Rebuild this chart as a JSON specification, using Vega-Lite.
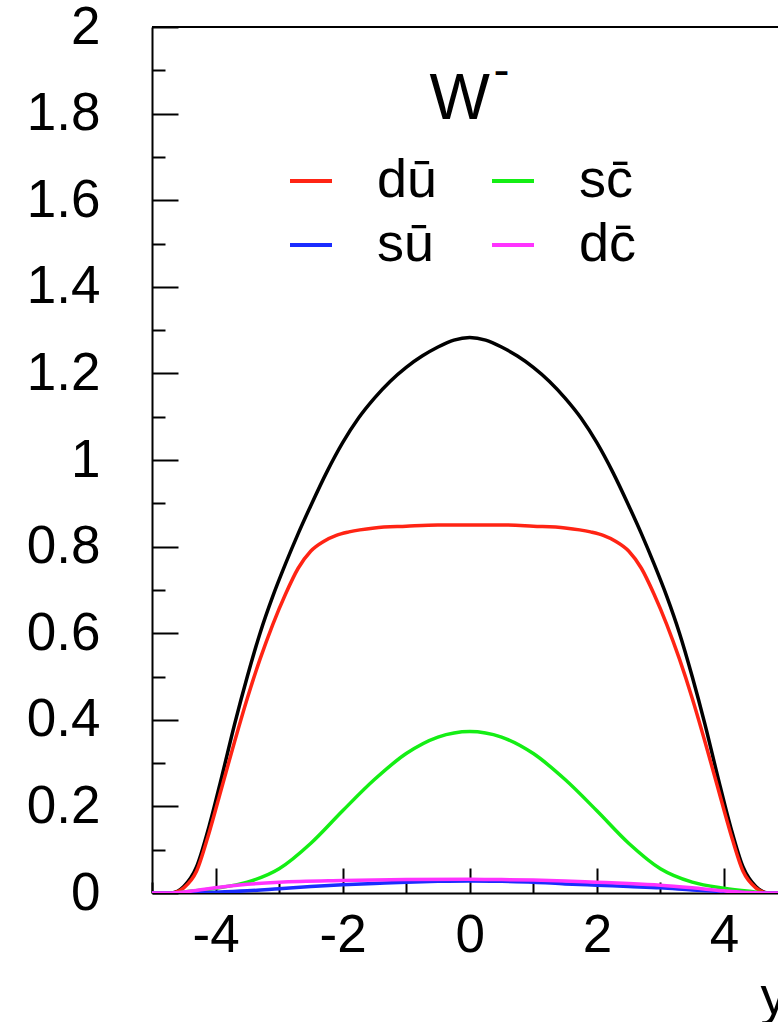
{
  "$schema": "https://vega.github.io/schema/vega-lite/v6.json",
  "width": 626,
  "height": 866,
  "autosize": {"type": "none"},
  "padding": {"left": 152, "top": 27, "right": 0, "bottom": 129},
  "background": "white",
  "config": {
    "view": {"stroke": null},
    "font": "Liberation Sans"
  },
  "datasets": {
    "total": [
      {"x": -5, "v": 0}, {"x": -4.7, "v": 0}, {"x": -4.5, "v": 0.015}, {"x": -4.3, "v": 0.06},
      {"x": -4.1, "v": 0.155}, {"x": -3.9, "v": 0.27}, {"x": -3.7, "v": 0.39}, {"x": -3.5, "v": 0.5},
      {"x": -3.3, "v": 0.6}, {"x": -3.1, "v": 0.685}, {"x": -2.9, "v": 0.76}, {"x": -2.7, "v": 0.83},
      {"x": -2.5, "v": 0.895}, {"x": -2.25, "v": 0.972}, {"x": -2, "v": 1.04}, {"x": -1.75, "v": 1.097},
      {"x": -1.5, "v": 1.143}, {"x": -1.25, "v": 1.182}, {"x": -1, "v": 1.214}, {"x": -0.75, "v": 1.24},
      {"x": -0.5, "v": 1.261}, {"x": -0.25, "v": 1.277}, {"x": 0, "v": 1.283},
      {"x": 0.25, "v": 1.277}, {"x": 0.5, "v": 1.261}, {"x": 0.75, "v": 1.24}, {"x": 1, "v": 1.214},
      {"x": 1.25, "v": 1.182}, {"x": 1.5, "v": 1.143}, {"x": 1.75, "v": 1.097}, {"x": 2, "v": 1.04},
      {"x": 2.25, "v": 0.972}, {"x": 2.5, "v": 0.895}, {"x": 2.7, "v": 0.83}, {"x": 2.9, "v": 0.76},
      {"x": 3.1, "v": 0.685}, {"x": 3.3, "v": 0.6}, {"x": 3.5, "v": 0.5}, {"x": 3.7, "v": 0.39},
      {"x": 3.9, "v": 0.27}, {"x": 4.1, "v": 0.155}, {"x": 4.3, "v": 0.06}, {"x": 4.5, "v": 0.015},
      {"x": 4.7, "v": 0}, {"x": 5, "v": 0}
    ],
    "flavours": [
      {"s": "dū", "x": -5, "v": 0}, {"s": "dū", "x": -4.7, "v": 0}, {"s": "dū", "x": -4.5, "v": 0.012},
      {"s": "dū", "x": -4.3, "v": 0.05}, {"s": "dū", "x": -4.1, "v": 0.14}, {"s": "dū", "x": -3.9, "v": 0.245},
      {"s": "dū", "x": -3.7, "v": 0.35}, {"s": "dū", "x": -3.5, "v": 0.45}, {"s": "dū", "x": -3.3, "v": 0.54},
      {"s": "dū", "x": -3.1, "v": 0.62}, {"s": "dū", "x": -2.9, "v": 0.69}, {"s": "dū", "x": -2.7, "v": 0.75},
      {"s": "dū", "x": -2.5, "v": 0.79}, {"s": "dū", "x": -2.3, "v": 0.812}, {"s": "dū", "x": -2.1, "v": 0.826},
      {"s": "dū", "x": -1.9, "v": 0.834}, {"s": "dū", "x": -1.5, "v": 0.843}, {"s": "dū", "x": -1, "v": 0.847},
      {"s": "dū", "x": -0.5, "v": 0.85}, {"s": "dū", "x": 0, "v": 0.85}, {"s": "dū", "x": 0.5, "v": 0.85},
      {"s": "dū", "x": 1, "v": 0.847}, {"s": "dū", "x": 1.5, "v": 0.843}, {"s": "dū", "x": 1.9, "v": 0.834},
      {"s": "dū", "x": 2.1, "v": 0.826}, {"s": "dū", "x": 2.3, "v": 0.812}, {"s": "dū", "x": 2.5, "v": 0.79},
      {"s": "dū", "x": 2.7, "v": 0.75}, {"s": "dū", "x": 2.9, "v": 0.69}, {"s": "dū", "x": 3.1, "v": 0.62},
      {"s": "dū", "x": 3.3, "v": 0.54}, {"s": "dū", "x": 3.5, "v": 0.45}, {"s": "dū", "x": 3.7, "v": 0.35},
      {"s": "dū", "x": 3.9, "v": 0.245}, {"s": "dū", "x": 4.1, "v": 0.14}, {"s": "dū", "x": 4.3, "v": 0.05},
      {"s": "dū", "x": 4.5, "v": 0.012}, {"s": "dū", "x": 4.7, "v": 0}, {"s": "dū", "x": 5, "v": 0},

      {"s": "sc̄", "x": -5, "v": 0}, {"s": "sc̄", "x": -4.7, "v": 0}, {"s": "sc̄", "x": -4.4, "v": 0.004},
      {"s": "sc̄", "x": -4, "v": 0.011}, {"s": "sc̄", "x": -3.5, "v": 0.025}, {"s": "sc̄", "x": -3, "v": 0.056},
      {"s": "sc̄", "x": -2.5, "v": 0.115}, {"s": "sc̄", "x": -2, "v": 0.19}, {"s": "sc̄", "x": -1.5, "v": 0.262},
      {"s": "sc̄", "x": -1, "v": 0.322}, {"s": "sc̄", "x": -0.5, "v": 0.36}, {"s": "sc̄", "x": 0, "v": 0.373},
      {"s": "sc̄", "x": 0.5, "v": 0.36}, {"s": "sc̄", "x": 1, "v": 0.322}, {"s": "sc̄", "x": 1.5, "v": 0.262},
      {"s": "sc̄", "x": 2, "v": 0.19}, {"s": "sc̄", "x": 2.5, "v": 0.115}, {"s": "sc̄", "x": 3, "v": 0.056},
      {"s": "sc̄", "x": 3.5, "v": 0.025}, {"s": "sc̄", "x": 4, "v": 0.011}, {"s": "sc̄", "x": 4.4, "v": 0.004},
      {"s": "sc̄", "x": 4.7, "v": 0}, {"s": "sc̄", "x": 5, "v": 0},

      {"s": "sū", "x": -5, "v": 0}, {"s": "sū", "x": -4.7, "v": 0}, {"s": "sū", "x": -4, "v": 0.002},
      {"s": "sū", "x": -3.5, "v": 0.005}, {"s": "sū", "x": -3, "v": 0.01}, {"s": "sū", "x": -2.5, "v": 0.015},
      {"s": "sū", "x": -2, "v": 0.019}, {"s": "sū", "x": -1.5, "v": 0.022}, {"s": "sū", "x": -1, "v": 0.025},
      {"s": "sū", "x": -0.5, "v": 0.027}, {"s": "sū", "x": 0, "v": 0.028}, {"s": "sū", "x": 0.5, "v": 0.027},
      {"s": "sū", "x": 1, "v": 0.025}, {"s": "sū", "x": 1.5, "v": 0.021}, {"s": "sū", "x": 2, "v": 0.018},
      {"s": "sū", "x": 2.5, "v": 0.015}, {"s": "sū", "x": 3, "v": 0.012}, {"s": "sū", "x": 3.5, "v": 0.007},
      {"s": "sū", "x": 4, "v": 0.003}, {"s": "sū", "x": 4.4, "v": 0.0005}, {"s": "sū", "x": 4.7, "v": 0},
      {"s": "sū", "x": 5, "v": 0},

      {"s": "dc̄", "x": -5, "v": 0}, {"s": "dc̄", "x": -4.7, "v": 0}, {"s": "dc̄", "x": -4.3, "v": 0.006},
      {"s": "dc̄", "x": -4, "v": 0.012}, {"s": "dc̄", "x": -3.5, "v": 0.02}, {"s": "dc̄", "x": -3, "v": 0.025},
      {"s": "dc̄", "x": -2, "v": 0.029}, {"s": "dc̄", "x": -1, "v": 0.031}, {"s": "dc̄", "x": 0, "v": 0.032},
      {"s": "dc̄", "x": 0.5, "v": 0.031}, {"s": "dc̄", "x": 1, "v": 0.03}, {"s": "dc̄", "x": 1.5, "v": 0.028},
      {"s": "dc̄", "x": 2, "v": 0.025}, {"s": "dc̄", "x": 2.5, "v": 0.022}, {"s": "dc̄", "x": 3, "v": 0.018},
      {"s": "dc̄", "x": 3.5, "v": 0.012}, {"s": "dc̄", "x": 4, "v": 0.005}, {"s": "dc̄", "x": 4.4, "v": 0.001},
      {"s": "dc̄", "x": 4.7, "v": 0}, {"s": "dc̄", "x": 5, "v": 0}
    ]
  },
  "layer": [
    {
      "data": {"name": "total"},
      "mark": {"type": "line", "color": "black", "strokeWidth": 3.5, "interpolate": "monotone", "clip": true},
      "encoding": {
        "x": {
          "field": "x", "type": "quantitative",
          "scale": {"domain": [-5, 4.85], "nice": false, "zero": false},
          "axis": {
            "values": [-5, -4.5, -4, -3.5, -3, -2.5, -2, -1.5, -1, -0.5, 0, 0.5, 1, 1.5, 2, 2.5, 3, 3.5, 4, 4.5],
            "labelExpr": "abs(datum.value/2 - round(datum.value/2)) < 0.001 ? '' + datum.value : ''",
            "tickSize": {"condition": {"test": "abs(datum.value/2 - round(datum.value/2)) < 0.001", "value": -25}, "value": -11},
            "tickWidth": 2, "tickColor": "black",
            "domainWidth": 2, "domainColor": "black",
            "labelFontSize": 53, "labelFont": "Liberation Sans", "labelColor": "black",
            "labelPadding": 41, "labelOverlap": false, "labelFlush": false,
            "grid": false,
            "title": "y", "titleFontSize": 53, "titleFont": "Liberation Sans", "titleFontWeight": "normal",
            "titleColor": "black", "titleAnchor": "end", "titleAlign": "left", "titleBaseline": "alphabetic",
            "titleX": 608, "titleY": 120
          }
        },
        "y": {
          "field": "v", "type": "quantitative",
          "scale": {"domain": [0, 2], "nice": false},
          "axis": {
            "values": [0, 0.05, 0.1, 0.15, 0.2, 0.25, 0.3, 0.35, 0.4, 0.45, 0.5, 0.55, 0.6, 0.65, 0.7, 0.75, 0.8, 0.85, 0.9, 0.95, 1, 1.05, 1.1, 1.15, 1.2, 1.25, 1.3, 1.35, 1.4, 1.45, 1.5, 1.55, 1.6, 1.65, 1.7, 1.75, 1.8, 1.85, 1.9, 1.95, 2],
            "labelExpr": "abs(datum.value*5 - round(datum.value*5)) < 0.001 ? '' + datum.value : ''",
            "tickSize": {"condition": {"test": "abs(datum.value*5 - round(datum.value*5)) < 0.001", "value": -26}, "value": -13},
            "tickWidth": 2, "tickColor": "black",
            "domainWidth": 2, "domainColor": "black",
            "labelFontSize": 53, "labelFont": "Liberation Sans", "labelColor": "black",
            "labelPadding": 78, "labelOverlap": false, "labelFlush": false,
            "grid": false, "title": null
          }
        }
      }
    },
    {
      "data": {"name": "flavours"},
      "mark": {"type": "line", "strokeWidth": 3.5, "interpolate": "monotone", "clip": true},
      "encoding": {
        "x": {"field": "x", "type": "quantitative", "scale": {"domain": [-5, 4.85], "nice": false, "zero": false}},
        "y": {"field": "v", "type": "quantitative", "scale": {"domain": [0, 2], "nice": false}},
        "color": {
          "field": "s", "type": "nominal",
          "scale": {"domain": ["dū", "sū", "sc̄", "dc̄"], "range": ["#ff2414", "#1a2cff", "#14ee14", "#ff33ff"]},
          "legend": {
            "orient": "none", "legendX": 132, "legendY": 127,
            "columns": 2, "symbolType": "stroke", "symbolSize": 1764, "symbolStrokeWidth": 4,
            "labelFontSize": 54, "labelFont": "Liberation Sans", "labelColor": "black",
            "labelOffset": 39, "columnPadding": 46, "rowPadding": 10,
            "title": null, "padding": 0
          }
        }
      }
    },
    {
      "data": {"values": [{}]},
      "mark": {"type": "rule", "strokeWidth": 2, "color": "black"},
      "encoding": {"y": {"datum": 2, "type": "quantitative", "scale": {"domain": [0, 2], "nice": false}}}
    },
    {
      "data": {"values": [{}]},
      "mark": {"type": "text", "text": "W", "fontSize": 64, "font": "Liberation Sans", "align": "center", "baseline": "alphabetic", "color": "black"},
      "encoding": {
        "x": {"datum": -0.157, "type": "quantitative", "scale": {"domain": [-5, 4.85], "nice": false, "zero": false}},
        "y": {"datum": 1.788, "type": "quantitative", "scale": {"domain": [0, 2], "nice": false}}
      }
    },
    {
      "data": {"values": [{}]},
      "mark": {"type": "text", "text": "-", "fontSize": 48, "font": "Liberation Sans", "align": "center", "baseline": "alphabetic", "color": "black"},
      "encoding": {
        "x": {"datum": 0.5, "type": "quantitative", "scale": {"domain": [-5, 4.85], "nice": false, "zero": false}},
        "y": {"datum": 1.864, "type": "quantitative", "scale": {"domain": [0, 2], "nice": false}}
      }
    }
  ]
}
